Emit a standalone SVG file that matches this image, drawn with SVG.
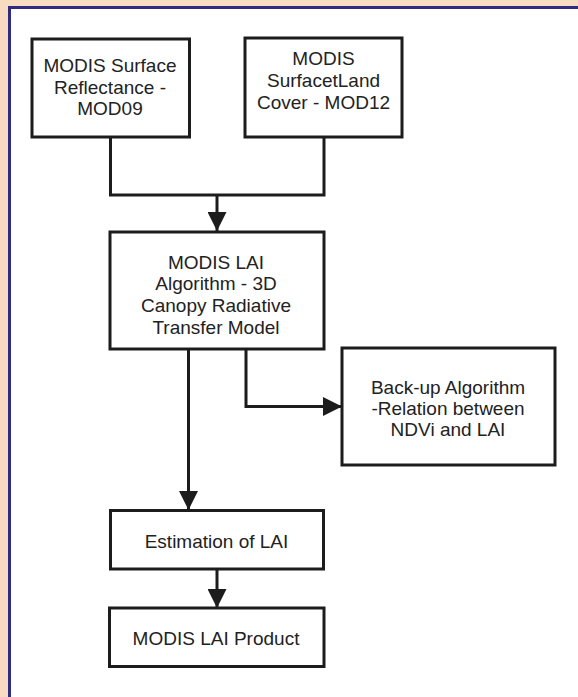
<svg xmlns="http://www.w3.org/2000/svg" width="578" height="697" viewBox="0 0 578 697">
  <style>
    .box { fill: #ffffff; stroke: #1c1c1c; stroke-width: 3; }
    .lbl { font-family: "Liberation Sans", Arial, sans-serif; font-size: 19px; fill: #222222; text-anchor: middle; }
    .conn { fill: none; stroke: #1c1c1c; stroke-width: 3; }
  </style>
  <defs>
    <marker id="arrow" markerUnits="userSpaceOnUse" markerWidth="19" markerHeight="19" viewBox="0 0 20 20" refX="20" refY="10" orient="auto">
      <path d="M0,0 L20,10 L0,20 Z" fill="#1c1c1c"/>
    </marker>
  </defs>
  <rect x="0" y="0" width="578" height="697" fill="#F8DCC1"/>
  <rect x="9.5" y="7.5" width="620" height="720" fill="#ffffff" stroke="#2E2B82" stroke-width="3"/>

  <g id="connectors">
    <path class="conn" d="M110.5,137 V195 H324 V137"/>
    <path class="conn" d="M217,195 V231" marker-end="url(#arrow)"/>
    <path class="conn" d="M188.5,349 V510" marker-end="url(#arrow)"/>
    <path class="conn" d="M246,349 V406.5 H342" marker-end="url(#arrow)"/>
    <path class="conn" d="M217,569 V608" marker-end="url(#arrow)"/>
  </g>

  <g id="surface-reflectance">
    <rect class="box" x="32" y="39" width="157.5" height="98"/>
    <text class="lbl" x="110" y="72">MODIS Surface</text>
    <text class="lbl" x="110" y="93.5">Reflectance -</text>
    <text class="lbl" x="110" y="115">MOD09</text>
  </g>

  <g id="land-cover">
    <rect class="box" x="245" y="38" width="157" height="99"/>
    <text class="lbl" x="323.5" y="65">MODIS</text>
    <text class="lbl" x="323.5" y="87">SurfacetLand</text>
    <text class="lbl" x="323.5" y="108.5">Cover - MOD12</text>
  </g>

  <g id="lai-algorithm">
    <rect class="box" x="110" y="232" width="214" height="117"/>
    <text class="lbl" x="216" y="268.5">MODIS LAI</text>
    <text class="lbl" x="216" y="290">Algorithm - 3D</text>
    <text class="lbl" x="216" y="312">Canopy Radiative</text>
    <text class="lbl" x="216" y="334">Transfer Model</text>
  </g>

  <g id="backup-algorithm">
    <rect class="box" x="342" y="348" width="213" height="117"/>
    <text class="lbl" x="448" y="393.5">Back-up Algorithm</text>
    <text class="lbl" x="448" y="415">-Relation between</text>
    <text class="lbl" x="448" y="436">NDVi and LAI</text>
  </g>

  <g id="estimation">
    <rect class="box" x="110.5" y="510.5" width="213" height="58.5"/>
    <text class="lbl" x="216.5" y="547.5">Estimation of LAI</text>
  </g>

  <g id="product">
    <rect class="box" x="109.5" y="608" width="214.5" height="58.5"/>
    <text class="lbl" x="216" y="644.5">MODIS LAI Product</text>
  </g>
</svg>
